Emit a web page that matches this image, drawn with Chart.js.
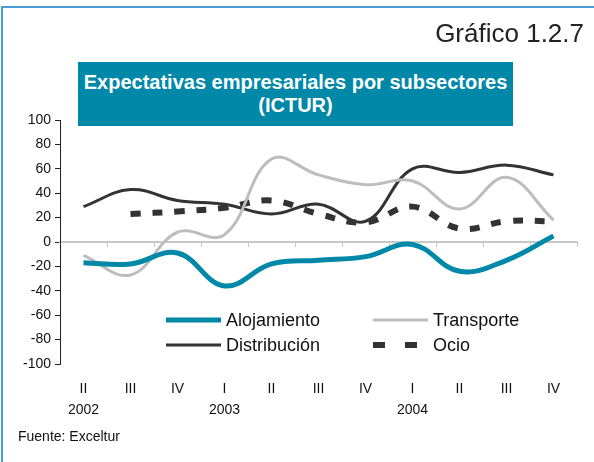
<!DOCTYPE html>
<html>
<head>
<meta charset="utf-8">
<script src="https://cdn.jsdelivr.net/npm/chart.js@4.4.0/dist/chart.umd.min.js"></script>
<style>
  html, body { margin: 0; padding: 0; background: #fff; }
  body { width: 594px; height: 462px; position: relative; overflow: hidden; font-family: 'Liberation Sans', Arial, sans-serif; }
  #frame { position: absolute; left: 1px; top: 6px; right: 0; bottom: 0; border-left: 2px solid #4a9bd0; border-top: 2px solid #4a9bd0; }
  #num { position: absolute; right: 10px; top: 18px; font-size: 26px; color: #222; }
  #title { position: absolute; left: 78px; top: 62px; width: 435px; height: 64px; background: #0088a9; color: #fff;
           font-weight: bold; font-size: 20px; line-height: 23px; text-align: center; display: flex; flex-direction: column; justify-content: center; }
  #src { position: absolute; left: 18px; top: 428px; font-size: 14px; color: #111; }
  canvas { position: absolute; left: 0; top: 0; }
</style>
</head>
<body>
<div id="frame"></div>
<canvas id="chart" width="594" height="462"></canvas>
<div id="num">Gráfico 1.2.7</div>
<div id="title"><div>Expectativas empresariales por subsectores</div><div>(ICTUR)</div></div>
<div id="src">Fuente: Exceltur</div>
<script>
// data
const quarters = ['II', 'III', 'IV', 'I', 'II', 'III', 'IV', 'I', 'II', 'III', 'IV'];
const years = ['2002', '', '', '2003', '', '', '', '2004', '', '', ''];
const alojamiento = [-17, -18, -9, -36, -18, -15, -12, -2, -24, -15, 5];
const transporte = [-11, -27, 8, 6, 68, 55, 47, 50, 27, 53, 18];
const distribucion = [29, 43, 34, 31, 23, 31, 17, 60, 57, 63, 55];
const ocio = [null, 23, 25, 28, 34, 23, 16, 29, 11, 17, 17];
const yTicks = [100, 80, 60, 40, 20, 0, -20, -40, -60, -80, -100];

const FONT = "'Liberation Sans', Arial, sans-serif";
const labels = quarters.map((q, i) => [q, years[i]]);

// legend drawn inside the plot, two columns
const legendBox = {
  id: 'legendBox',
  afterDraw(chart) {
    const c = chart.ctx;
    const slots = [[166, 320], [373, 320], [166, 345], [373, 345]];
    c.save();
    c.font = '18px ' + FONT;
    c.textBaseline = 'middle';
    chart.data.datasets.forEach((ds, k) => {
      const [x, y] = slots[k];
      c.beginPath();
      c.strokeStyle = ds.borderColor;
      c.lineWidth = ds.borderWidth;
      c.setLineDash(ds.borderDash ? [12, 20] : []);
      c.moveTo(x, y);
      c.lineTo(x + 55, y);
      c.stroke();
      c.setLineDash([]);
      c.fillStyle = '#111';
      c.fillText(ds.label, x + 60, y + 1);
    });
    c.restore();
  }
};

new Chart(document.getElementById('chart'), {
  type: 'line',
  data: {
    labels: labels,
    datasets: [
      { label: 'Alojamiento', data: alojamiento, borderColor: '#0088a9', borderWidth: 5 },
      { label: 'Transporte', data: transporte, borderColor: '#bdbdbd', borderWidth: 3 },
      { label: 'Distribución', data: distribucion, borderColor: '#333333', borderWidth: 3 },
      { label: 'Ocio', data: ocio, borderColor: '#333333', borderWidth: 6, borderDash: [10, 12] }
    ]
  },
  options: {
    responsive: false,
    devicePixelRatio: 1,
    animation: false,
    layout: { padding: { top: 120, right: 17, bottom: 0, left: 0 } },
    elements: { point: { radius: 0 }, line: { tension: 0.4, fill: false, borderCapStyle: 'butt' } },
    plugins: { legend: { display: false }, tooltip: { enabled: false } },
    scales: {
      x: {
        offset: true,
        grid: { display: false, drawTicks: false },
        border: { display: false },
        ticks: { color: '#111', font: { family: FONT, size: 14, lineHeight: 1.5 }, padding: 15, maxRotation: 0, autoSkip: false },
        afterFit: s => { s.height = 98; }
      },
      x2: {
        type: 'category',
        labels: labels,
        position: { y: 0 },
        offset: true,
        grid: { display: true, drawOnChartArea: false, offset: true, tickLength: 4, color: '#c8c8c8', lineWidth: 1 },
        border: { color: '#c8c8c8', width: 2 },
        ticks: { display: false },
        afterFit: s => { s.height = 0; }
      },
      y: {
        min: -100, max: 100,
        afterBuildTicks: s => { s.ticks = yTicks.map(v => ({ value: v })); },
        grid: { drawOnChartArea: false, tickLength: 5, color: '#222' },
        border: { color: '#222', width: 1 },
        ticks: { color: '#111', font: { family: FONT, size: 14 }, padding: 4 },
        afterFit: s => { s.width = 60; }
      }
    }
  },
  plugins: [legendBox]
});
</script>
</body>
</html>
